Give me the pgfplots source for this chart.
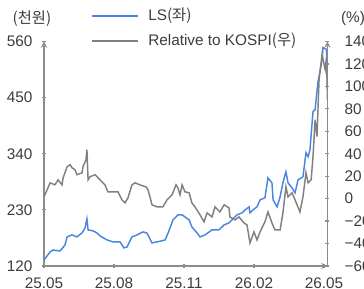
\documentclass[border=0pt]{standalone}
\usepackage{fontspec}
\setmainfont{Liberation Sans}
\newfontfamily\kr{Noto Sans CJK KR}
\usepackage{pgfplots}
\pgfplotsset{compat=1.18}
\definecolor{lsblue}{RGB}{74,134,222}
\definecolor{relgray}{RGB}{128,128,128}
\definecolor{axgray}{RGB}{140,140,140}
\definecolor{txt}{RGB}{60,60,60}
\newcommand{\lblfont}{\fontsize{11.5}{13}\selectfont}

\pgfplotstableread{
m v
0.00 131.8
0.26 147.5
0.39 151.4
0.69 149.5
0.90 161.3
0.99 177.0
1.20 180.9
1.41 177.0
1.63 184.8
1.76 194.6
1.84 212.3
1.89 190.7
2.10 188.8
2.27 184.8
2.40 178.9
2.70 171.1
2.96 167.1
3.26 167.1
3.43 155.4
3.56 157.3
3.77 177.0
3.99 180.9
4.24 186.8
4.41 184.8
4.63 165.2
4.84 167.1
5.19 171.1
5.32 184.8
5.53 210.4
5.74 220.2
5.92 220.2
6.22 210.4
6.34 196.6
6.56 184.8
6.69 177.0
6.90 180.9
7.20 190.7
7.50 190.7
7.72 200.5
7.93 204.5
8.06 210.4
8.27 220.2
8.49 224.1
8.62 230.0
8.79 235.9
8.83 224.1
8.96 230.0
9.13 235.9
9.26 249.6
9.47 253.6
9.60 292.9
9.77 283.0
9.82 249.6
9.99 235.9
10.12 255.5
10.24 283.0
10.37 304.6
10.46 283.0
10.63 273.2
10.76 263.4
10.89 288.9
11.10 294.8
11.23 342.0
11.32 334.1
11.40 347.9
11.53 422.5
11.62 426.4
11.74 479.5
11.92 524.6
11.96 548.2
12.11 544.3
12.15 471.6
}\lsdata

\pgfplotstableread{
m v
0.00 1.6
0.17 9.6
0.26 14.1
0.47 12.3
0.60 16.8
0.77 12.3
0.82 18.6
0.99 28.4
1.12 30.2
1.20 27.5
1.33 25.7
1.41 21.3
1.63 23.0
1.67 28.4
1.80 34.6
1.84 43.6
1.89 16.8
1.97 19.5
2.19 21.3
2.40 16.8
2.61 12.3
2.74 6.1
3.04 6.1
3.17 6.1
3.34 -1.1
3.47 -3.8
3.60 0.7
3.77 12.3
3.90 14.1
4.11 12.3
4.37 10.5
4.46 7.9
4.63 -5.5
4.84 -7.3
5.10 -7.3
5.27 -1.1
5.49 3.4
5.66 12.3
5.74 9.6
5.83 3.4
5.92 12.3
6.04 6.1
6.22 5.2
6.34 -3.8
6.47 -7.3
6.69 -14.5
6.86 -20.7
6.99 -12.7
7.20 -16.3
7.33 -7.3
7.54 -11.8
7.72 -5.5
7.93 -8.2
7.97 -16.3
8.19 -18.9
8.36 -16.3
8.57 -21.6
8.70 -23.4
8.83 -39.5
9.00 -29.6
9.13 -36.8
9.26 -29.6
9.47 -20.7
9.60 -11.8
9.77 -21.6
9.90 -27.9
10.12 -27.9
10.24 -12.7
10.37 10.5
10.46 1.6
10.63 5.2
10.76 -1.1
10.97 -11.8
11.10 1.6
11.23 23.0
11.32 14.1
11.45 16.8
11.53 37.3
11.62 70.4
11.70 55.2
11.79 106.1
11.92 128.4
12.05 115.0
12.11 125.7
12.15 88.2
}\reldata

\begin{document}
\begin{tikzpicture}
\pgfplotsset{
  common/.style={
    scale only axis, width=212.6pt, height=168.4pt,
    at={(0,0)}, anchor=south west,
    xmin=0, xmax=12.15,
    axis line style={draw=axgray, line width=1.1pt, -},
    tick align=inside, major tick length=3pt,
    tick style={draw=axgray, line width=0.9pt},
    tick label style={font=\lblfont, text=txt},
    /pgf/number format/assume math mode=true,
  }
}
\begin{axis}[common,
  ymin=120, ymax=560,
  axis x line=bottom, axis y line=left,
  xtick={0,3,6,9,12},
  xticklabels={25.05,25.08,25.11,26.02,26.05},
  ytick={120,230,340,450,560},
  yticklabel style={xshift=-3.7pt},
  xticklabel style={yshift=-4pt},
]
\addplot[lsblue, line width=1.1pt] table[x=m, y=v] {\lsdata};
\end{axis}
\begin{axis}[common,
  ymin=-60, ymax=140,
  axis x line=none, axis y line=right,
  ytick={-60,-40,-20,0,20,40,60,80,100,120,140},
  yticklabels={−60,−40,−20,0,20,40,60,80,100,120,140},
  yticklabel style={xshift=7.8pt},
]
\addplot[relgray, line width=1.1pt] table[x=m, y=v] {\reldata};
\end{axis}
% titles
\node[font=\lblfont, text=txt] at (-9pt,185.25pt) {\kr (천원)};
\node[font=\lblfont, text=txt] at (231.75pt,185.25pt) {(\%)};
% legend
\draw[lsblue, line width=1.1pt] (36pt,187.5pt) -- (70.5pt,187.5pt);
\node[font=\lblfont, text=txt, anchor=base west, inner sep=0pt] at (78pt,183.75pt) {LS{\kr (좌)}};
\draw[relgray, line width=1.1pt] (36pt,168.75pt) -- (70.5pt,168.75pt);
\node[font=\lblfont, text=txt, anchor=base west, inner sep=0pt] at (78pt,165pt) {Relative to KOSPI{\kr (우)}};
\pgfresetboundingbox
\useasboundingbox (-33pt,-17.25pt) rectangle (240pt,199.5pt);
\end{tikzpicture}
\end{document}
